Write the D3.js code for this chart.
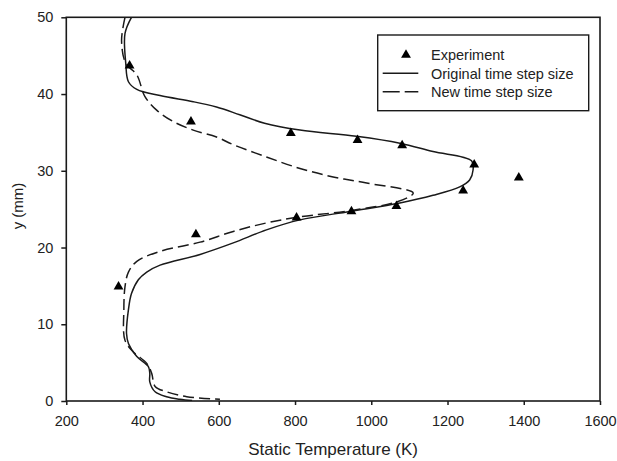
<!DOCTYPE html>
<html>
<head>
<meta charset="utf-8">
<script src="https://cdn.jsdelivr.net/npm/d3@7"></script>
<style>
  html, body { margin: 0; padding: 0; background: #fff; }
  svg text { font-family: "Liberation Sans", Arial, sans-serif; fill: #222; }
</style>
</head>
<body>
<svg id="chart" width="617" height="461"></svg>
<script>
// Static temperature profiles across the channel height
const xTicks = [200, 400, 600, 800, 1000, 1200, 1400, 1600];
const yTicks = [0, 10, 20, 30, 40, 50];

// Measured points
const expT = [366, 527, 789, 964, 1081, 1270, 1387, 1241, 1066, 948, 804, 540, 337];
const expY = [43.7, 36.4, 34.9, 34.0, 33.3, 30.8, 29.1, 27.4, 25.4, 24.7, 23.9, 21.7, 14.9];

// Simulation, original time step size (traced top to bottom)
const origT = [371, 354, 356, 363, 385, 446, 533, 594, 655, 720, 813, 961, 1075, 1162, 1263, 1267,
               1258, 1232, 1162, 1075, 944, 813, 725, 638, 551, 446, 411, 389, 371, 363, 358,
               363, 385, 415, 419, 419, 433, 463, 498, 530];
const origY = [50.0, 47.9, 44.0, 41.6, 40.6, 39.8, 39.0, 38.3, 37.3, 36.2, 35.3, 34.5, 33.6, 32.5, 31.3, 30.1,
               28.8, 27.9, 26.8, 25.8, 24.7, 23.6, 22.3, 20.6, 19.1, 17.7, 16.8, 15.8, 14.0, 11.9, 8.8,
               7.5, 5.8, 4.5, 3.6, 2.5, 1.2, 0.56, 0.22, 0.05];

// Simulation, new time step size
const newT = [354, 345, 356, 385, 406, 437, 481, 533, 594, 638, 725, 813, 900, 988, 1110,
              1070, 944, 813, 725, 638, 551, 446, 385, 363, 354, 351, 354, 376, 411, 424, 433,
              463, 516, 603];
const newY = [50.0, 47.0, 44.0, 42.5, 39.7, 37.9, 36.4, 35.3, 34.4, 33.4, 31.8, 30.3, 29.2, 28.4, 27.1,
              26.0, 24.8, 24.0, 23.2, 22.1, 20.7, 19.5, 18.2, 16.8, 14.9, 11.9, 7.9, 6.4, 4.9, 3.6, 1.9,
              1.2, 0.56, 0.22];

const svg = d3.select("#chart");
const plotLeft = 66.3, plotRight = 600, plotTop = 17.3, plotBottom = 401;

const x = d3.scaleLinear().domain([200, 1600]).range([plotLeft, plotRight]);
const y = d3.scaleLinear().domain([0, 50]).range([plotBottom, plotTop]);

const ink = "#1a1a1a";

// Curves, clipped to the plotting frame
svg.append("defs").append("clipPath").attr("id", "plotClip")
  .append("rect").attr("x", plotLeft).attr("y", plotTop)
  .attr("width", plotRight - plotLeft).attr("height", plotBottom - plotTop);

const line = d3.line()
  .x(d => x(d[0]))
  .y(d => y(d[1]))
  .curve(d3.curveCatmullRom.alpha(0.5));

const plot = svg.append("g").attr("clip-path", "url(#plotClip)");

plot.append("path")
  .attr("d", line(d3.zip(origT, origY)))
  .attr("fill", "none")
  .attr("stroke", ink)
  .attr("stroke-width", 1.5);

plot.append("path")
  .attr("d", line(d3.zip(newT, newY)))
  .attr("fill", "none")
  .attr("stroke", ink)
  .attr("stroke-width", 1.5)
  .attr("stroke-dasharray", "11,5");

const tri = d3.symbol().type(d3.symbolTriangle).size(42);
svg.append("g").selectAll("path")
  .data(d3.zip(expT, expY))
  .join("path")
  .attr("d", tri)
  .attr("transform", d => `translate(${x(d[0])},${y(d[1])})`)
  .attr("fill", "#000");

// Axes
const xAxis = svg.append("g")
  .attr("transform", `translate(0,${plotBottom})`)
  .call(d3.axisBottom(x).tickValues(xTicks).tickFormat(d3.format("d"))
    .tickSize(4).tickSizeOuter(0).tickPadding(11));
const yAxis = svg.append("g")
  .attr("transform", `translate(${plotLeft},0)`)
  .call(d3.axisLeft(y).tickValues(yTicks).tickFormat(d3.format("d"))
    .tickSize(5).tickSizeOuter(0).tickPadding(8));

[xAxis, yAxis].forEach(g => {
  g.select(".domain").remove();
  g.selectAll(".tick line").attr("stroke", ink).attr("stroke-width", 1.5);
  g.selectAll(".tick text").style("font-size", "14.5px").attr("fill", "#222");
});

// Plot frame
svg.append("rect")
  .attr("x", plotLeft).attr("y", plotTop)
  .attr("width", plotRight - plotLeft).attr("height", plotBottom - plotTop)
  .attr("fill", "none").attr("stroke", ink).attr("stroke-width", 1.6);

// Axis titles
svg.append("text")
  .attr("x", (plotLeft + plotRight) / 2).attr("y", 455)
  .attr("text-anchor", "middle")
  .style("font-size", "17px")
  .text("Static Temperature (K)");

svg.append("text")
  .attr("transform", "translate(22.5,206) rotate(-90)")
  .attr("text-anchor", "middle")
  .style("font-size", "15px")
  .text("y (mm)");

// Legend
const legend = svg.append("g");
legend.append("rect")
  .attr("x", 377.7).attr("y", 35)
  .attr("width", 211).attr("height", 75.7)
  .attr("fill", "#fff").attr("stroke", ink).attr("stroke-width", 1.4);

const rows = [55, 73.3, 91.7];
legend.append("path")
  .attr("d", tri)
  .attr("transform", `translate(406,${rows[0]})`)
  .attr("fill", "#000");
legend.append("line")
  .attr("x1", 382.7).attr("x2", 418.3).attr("y1", rows[1]).attr("y2", rows[1])
  .attr("stroke", ink).attr("stroke-width", 1.5);
legend.append("line")
  .attr("x1", 382.7).attr("x2", 418.3).attr("y1", rows[2]).attr("y2", rows[2])
  .attr("stroke", ink).attr("stroke-width", 1.5).attr("stroke-dasharray", "17,5");

const labels = ["Experiment", "Original time step size", "New time step size"];
legend.selectAll("text.lab")
  .data(labels)
  .join("text")
  .attr("class", "lab")
  .attr("x", 431)
  .attr("y", (d, i) => rows[i])
  .attr("dy", "0.36em")
  .style("font-size", "14.5px")
  .text(d => d);
</script>
</body>
</html>
